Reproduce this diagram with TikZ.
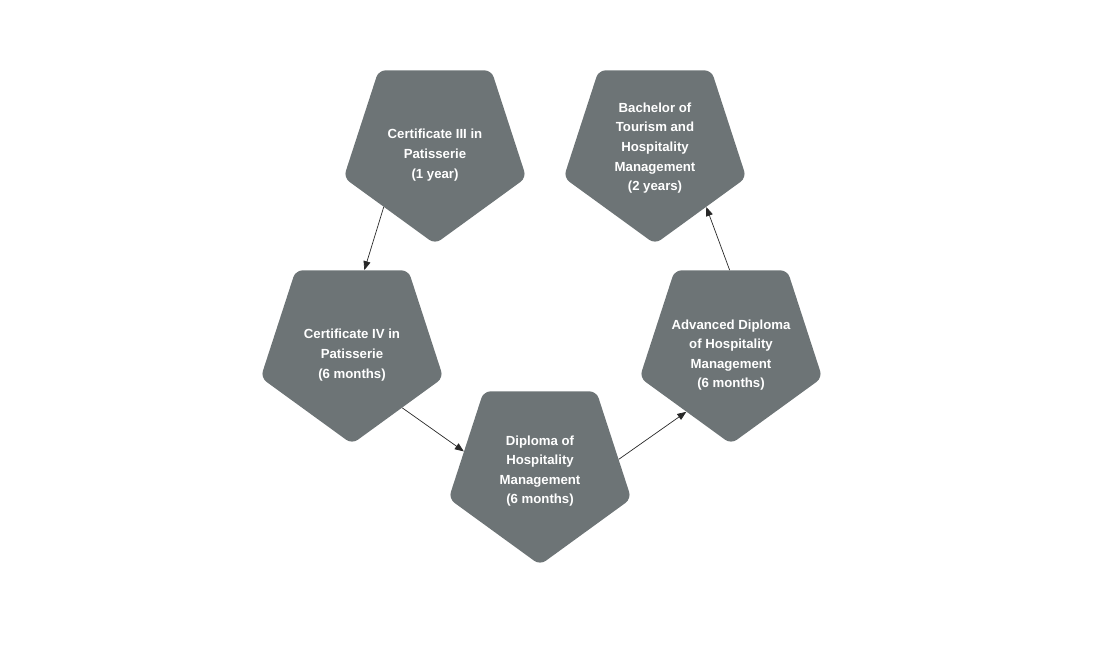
\documentclass[tikz,border=0pt]{standalone}
\usepackage{fontspec}
\setmainfont{Liberation Sans}
\usetikzlibrary{arrows.meta,shapes.geometric}
\definecolor{stepgrey}{RGB}{109,116,118}
\definecolor{arrowdark}{RGB}{40,40,40}

\begin{document}
\begin{tikzpicture}[x=1pt,y=-1pt,
    course/.style={regular polygon,regular polygon sides=5,shape border rotate=180,
      minimum size=192pt,inner sep=0pt,fill=stepgrey,rounded corners=7pt},
    coursetext/.style={align=center,text=white,inner sep=0pt,
      font=\bfseries\fontsize{13.2}{19.6}\selectfont},
    arr/.style={-{Triangle[length=9pt,width=7pt]},line width=0.7pt,draw=arrowdark}
  ]
    \useasboundingbox (0,0) rectangle (1097,650);

    \node[course,label={[coursetext,yshift=-7pt]center:{Certificate III in\\Patisserie\\(1 year)}}]
      (cert3) at (435,148) {};
    \node[course,label={[coursetext,yshift=-7pt]center:{Certificate IV in\\Patisserie\\(6 months)}}]
      (cert4) at (352,348) {};
    \node[course,label={[coursetext,yshift=-2pt]center:{Diploma of\\Hospitality\\Management\\(6 months)}}]
      (dipl) at (540,469) {};
    \node[course,label={[coursetext,yshift=-7pt]center:{Advanced Diploma\\of Hospitality\\Management\\(6 months)}}]
      (adv) at (731,348) {};
    \node[course,label={[coursetext]center:{Bachelor of\\Tourism and\\Hospitality\\Management\\(2 years)}}]
      (bach) at (655,148) {};

    \draw[arr] (cert3.229) -- (cert4.81);
    \draw[arr] (cert4.310) -- (dipl.167);
    \draw[arr] (dipl.7) -- (adv.235);
    \draw[arr] (adv.91) -- (bach.311);
  \end{tikzpicture}
\end{document}
